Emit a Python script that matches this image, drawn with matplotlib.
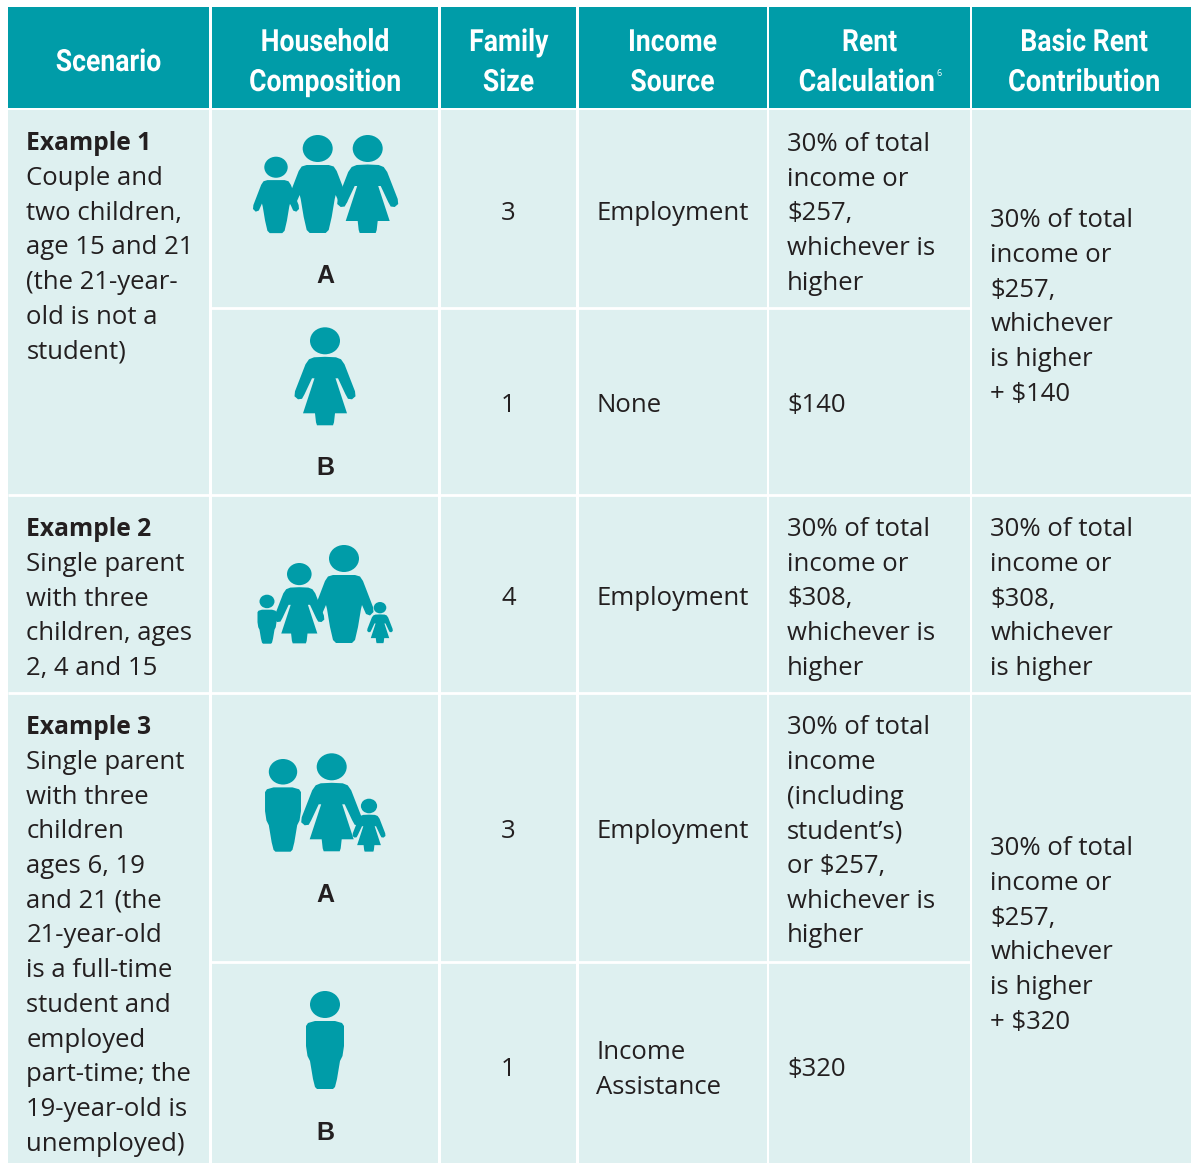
import matplotlib
matplotlib.use("Agg")
import matplotlib.pyplot as plt
from matplotlib.patches import Rectangle, Ellipse, Polygon
from matplotlib.patheffects import AbstractPathEffect
from matplotlib.transforms import Affine2D

# ---- table content ----
headers = [["Scenario"], ["Household", "Composition"], ["Family", "Size"],
           ["Income", "Source"], ["Rent", "Calculation"], ["Basic Rent", "Contribution"]]
example_titles = ["Example 1", "Example 2", "Example 3"]
example_texts = [
    ["Couple and", "two children,", "age 15 and 21", "(the 21-year-", "old is not a", "student)"],
    ["Single parent", "with three", "children, ages", "2, 4 and 15"],
    ["Single parent", "with three", "children", "ages 6, 19", "and 21 (the", "21-year-old", "is a full-time",
     "student and", "employed", "part-time; the", "19-year-old is", "unemployed)"],
]
family_sizes = ["3", "1", "4", "3", "1"]
income_sources = [["Employment"], ["None"], ["Employment"], ["Employment"], ["Income", "Assistance"]]
rent_calcs = [
    ["30% of total", "income or", "$257,", "whichever is", "higher"],
    ["$140"],
    ["30% of total", "income or", "$308,", "whichever is", "higher"],
    ["30% of total", "income", "(including", "student\u2019s)", "or $257,", "whichever is", "higher"],
    ["$320"],
]
basic_rents = [
    ["30% of total", "income or", "$257,", "whichever", "is higher", "+ $140"],
    ["30% of total", "income or", "$308,", "whichever", "is higher"],
    ["30% of total", "income or", "$257,", "whichever", "is higher", "+ $320"],
]
letters = ["A", "B", "A", "B"]

# ---- layout (pixels) ----
W, H = 1191, 1164
TEAL, PALE, INK = "#009CA8", "#DEF0F0", "#231F20"
col_x = [8, 210.5, 439.5, 577.5, 768, 971, 1191]
head_top, head_bot = 7, 108
row_y = [108, 308, 495, 693, 962, 1163]
PITCH = 34.7
BODY = "Open Sans"
HEAD = "Roboto"


class Narrow(AbstractPathEffect):
    """Condense glyphs horizontally about the text's centre or right edge."""

    def __init__(self, sx, anchor="center"):
        super().__init__()
        self.sx = sx
        self.anchor = anchor

    def draw_path(self, renderer, gc, tpath, affine, rgbFace=None):
        box = tpath.transformed(affine).get_extents()
        cx = box.x1 if self.anchor == "right" else 0.5 * (box.x0 + box.x1)
        squeeze = Affine2D().translate(-cx, 0).scale(self.sx, 1).translate(cx, 0)
        renderer.draw_path(gc, tpath, affine + squeeze, rgbFace)


fig = plt.figure(figsize=(W / 100, H / 100), dpi=100, facecolor="white")
ax = fig.add_axes([0, 0, 1, 1])
ax.set_xlim(0, W)
ax.set_ylim(H, 0)
ax.axis("off")


def rect(x0, y0, x1, y1, c):
    ax.add_patch(Rectangle((x0, y0), x1 - x0, y1 - y0, fc=c, ec="none", zorder=1))


GAP = 1.3
for i in range(6):
    x0 = col_x[i] + (GAP if i else 0)
    x1 = col_x[i + 1] - (GAP if i < 5 else 0)
    rect(x0, head_top, x1, head_bot, TEAL)
    rect(x0, head_bot + 2, x1, row_y[-1], PALE)
# horizontal rules
for y in (495, 693):
    ax.plot([col_x[0], W], [y, y], color="white", lw=2.0, zorder=2, solid_capstyle="butt")
for y in (308, 962):
    ax.plot([col_x[1], col_x[5]], [y, y], color="white", lw=2.0, zorder=2, solid_capstyle="butt")


def lines(x, yc, rows, ha="left", **kw):
    """rows centred vertically on successive line centres from yc"""
    for n, t in enumerate(rows):
        ax.text(x, yc + n * PITCH + 9.2, t, ha=ha, va="baseline", color=kw.get("color", INK),
                fontsize=kw.get("fontsize", 18.5), family=kw.get("family", BODY),
                fontweight=kw.get("fontweight", "normal"), zorder=5)


# headers
head_cx = [108.5, 325, 508.5, 672.5, 869.5, 1084]
for cx, h in zip(head_cx, headers):
    y0 = 60 if len(h) == 1 else 40
    for n, t in enumerate(h):
        if t == "Calculation":
            ax.text(934.5, y0 + n * 40 + 11, t, ha="right", va="baseline", color="white",
                    fontsize=22, family=HEAD, fontweight="bold", zorder=5,
                    path_effects=[Narrow(0.88, anchor="right")])
        else:
            sx = 0.89 if t == "Contribution" else 0.87
            ax.text(cx, y0 + n * 40 + 11, t, ha="center", va="baseline", color="white",
                    fontsize=22, family=HEAD, fontweight="bold", zorder=5,
                    path_effects=[Narrow(sx)])
ax.text(936.5, 76.5, "6", color="white", fontsize=6.5, family=BODY, ha="left", va="baseline", zorder=5)

# scenario column
scen_y = [141, 527, 725]
for t, body, y in zip(example_titles, example_texts, scen_y):
    lines(26.5, y, [t], fontweight="bold", fontsize=17.7)
    lines(26.5, y + PITCH, body)

# family size / income / rent
row_cy = [211, 403, 596, 829, 1067]
for s, cy in zip(family_sizes, row_cy):
    lines(508.5, cy, [s], ha="center")
for src, cy in zip(income_sources, row_cy):
    lines(596.5, cy - (len(src) - 1) * PITCH / 2, src)
for r, cy in zip(rent_calcs, row_cy):
    lines(787, cy - (len(r) - 1) * PITCH / 2, r)
for r, y in zip(basic_rents, [218, 527, 846]):
    lines(990.5, y, r)

for t, y in zip(letters, [274, 466, 893, 1131]):
    ax.text(325, y + 8.8, t, ha="center", va="baseline", color=INK, fontsize=18,
            family="Liberation Sans", fontweight="bold", zorder=5)

# ---- pictograms: half-outline in px for a figure 98 px tall ----
MALE = [(0, 30), (11, 30), (16, 31.5), (19, 36), (29, 62), (29.5, 67), (26, 70.5), (22, 69), (18, 60),
        (17, 64), (14, 82), (11, 95), (8, 98)]
FEMALE = [(0, 29.5), (11, 30), (16, 32), (19.5, 37), (30, 64), (30.5, 69), (27, 72), (23, 71.5), (20.5, 67),
          (13, 51), (10.5, 51), (22, 86), (10, 86), (9, 95), (8, 98)]
BLOCK = [(0, 30), (10, 30), (17, 32), (19, 35), (19, 55), (17.5, 65), (15, 70), (12, 88), (10, 96), (8, 98)]


def person(kind, cx, top, s=1.0):
    half = {"m": MALE, "f": FEMALE, "b": BLOCK}[kind]
    pts = [(cx + s * x, top + s * y) for x, y in half] + [(cx - s * x, top + s * y) for x, y in reversed(half)]
    ax.add_patch(Polygon(pts, closed=True, fc=TEAL, ec="none", zorder=3))
    ax.add_patch(Ellipse((cx, top + 13.5 * s), 30 * s, 27 * s, fc=TEAL, ec="none", zorder=3))


people = [
    ("m", 276, 156.7, 0.78), ("m", 317.7, 135, 1), ("f", 367.7, 135, 1),
    ("f", 325, 327.3, 1),
    ("b", 267, 594.7, 0.5), ("f", 299.3, 563, 0.82), ("m", 344, 545, 1), ("f", 380, 602, 0.42),
    ("b", 283, 759, 0.946), ("f", 331.7, 753.3, 1), ("f", 369, 798.7, 0.54),
    ("b", 325, 991, 1),
]
for p in people:
    person(*p)

fig.savefig("out.png", dpi=100, facecolor="white")
